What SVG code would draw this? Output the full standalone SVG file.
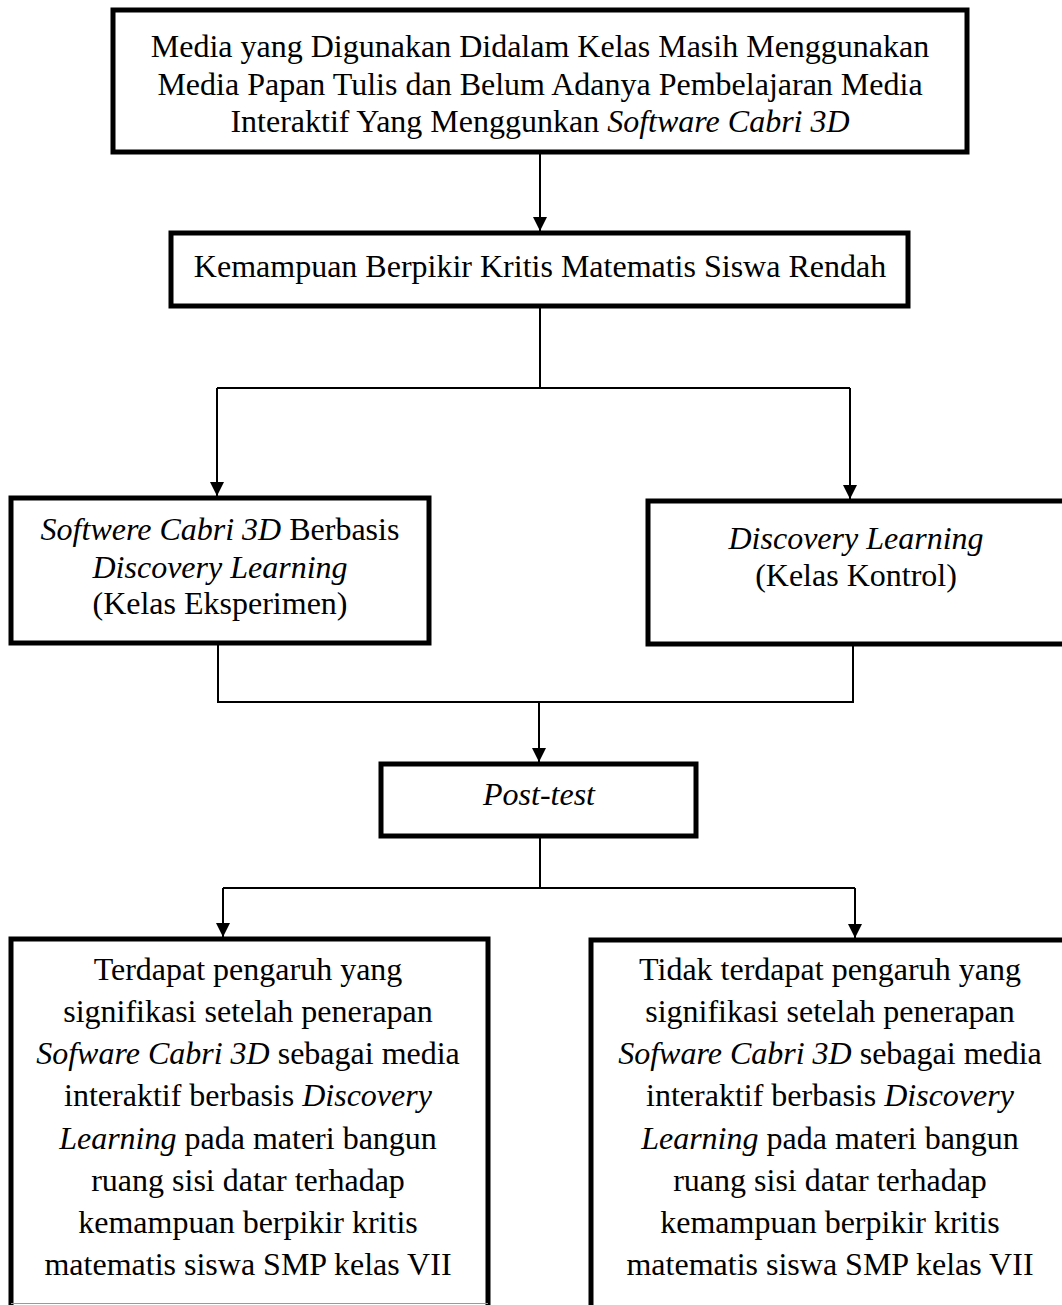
<svg xmlns="http://www.w3.org/2000/svg" width="1062" height="1305" viewBox="0 0 1062 1305">
<style>
.box{fill:#fff;stroke:#000;stroke-width:5}
.t{font-family:"Liberation Serif","Times New Roman",serif;font-size:32px;fill:#000;text-anchor:middle}
.i{font-style:italic}
.c{fill:none;stroke:#000;stroke-width:2}
</style>
<defs>
<marker id="ah" markerWidth="14" markerHeight="16" refX="14" refY="8" orient="auto" markerUnits="userSpaceOnUse">
<path d="M0,1 L14,8 L0,15 Z" fill="#000"/>
</marker>
</defs>
<rect width="1062" height="1305" fill="#fff"/>
<g id="connectors">
<path class="c" d="M540,152 V231" marker-end="url(#ah)"/>
<path class="c" d="M540,306 V388"/>
<path class="c" d="M217,388 H850"/>
<path class="c" d="M217,388 V496" marker-end="url(#ah)"/>
<path class="c" d="M850,388 V499" marker-end="url(#ah)"/>
<path class="c" d="M218,643 V702 H853 V644"/>
<path class="c" d="M539,702 V762" marker-end="url(#ah)"/>
<path class="c" d="M540,836 V888"/>
<path class="c" d="M223,888 H855"/>
<path class="c" d="M223,888 V937" marker-end="url(#ah)"/>
<path class="c" d="M855,888 V938" marker-end="url(#ah)"/>
</g>
<g id="node-media">
<rect class="box" x="113" y="10" width="854" height="142"/>
<text class="t" x="540" y="57">Media yang Digunakan Didalam Kelas Masih Menggunakan</text>
<text class="t" x="540" y="95">Media Papan Tulis dan Belum Adanya Pembelajaran Media</text>
<text class="t" x="540" y="132">Interaktif Yang Menggunkan <tspan class="i">Software Cabri 3D</tspan></text>
</g>
<g id="node-kemampuan">
<rect class="box" x="171" y="233" width="737" height="73"/>
<text class="t" x="540" y="277">Kemampuan Berpikir Kritis Matematis Siswa Rendah</text>
</g>
<g id="node-eksperimen">
<rect class="box" x="11" y="498" width="418" height="145"/>
<text class="t" x="220" y="540"><tspan class="i">Softwere Cabri 3D</tspan> Berbasis</text>
<text class="t i" x="220" y="578">Discovery Learning</text>
<text class="t" x="220" y="614">(Kelas Eksperimen)</text>
</g>
<g id="node-kontrol">
<rect class="box" x="648" y="501" width="424" height="143"/>
<text class="t i" x="856" y="549">Discovery Learning</text>
<text class="t" x="856" y="586">(Kelas Kontrol)</text>
</g>
<g id="node-posttest">
<rect class="box" x="381" y="764" width="315" height="72"/>
<text class="t i" x="539" y="805">Post-test</text>
</g>
<g id="node-hasil-ada">
<rect class="box" x="11" y="939" width="477" height="375"/>
<line x1="11" y1="1303.5" x2="488" y2="1303.5" stroke="#999" stroke-width="1"/>
<text class="t" x="248" y="980">Terdapat pengaruh yang</text>
<text class="t" x="248" y="1022">signifikasi setelah penerapan</text>
<text class="t" x="248" y="1064"><tspan class="i">Sofware Cabri 3D</tspan> sebagai media</text>
<text class="t" x="248" y="1106">interaktif berbasis <tspan class="i">Discovery</tspan></text>
<text class="t" x="248" y="1149"><tspan class="i">Learning</tspan> pada materi bangun</text>
<text class="t" x="248" y="1191">ruang sisi datar terhadap</text>
<text class="t" x="248" y="1233">kemampuan berpikir kritis</text>
<text class="t" x="248" y="1275">matematis siswa SMP kelas VII</text>
</g>
<g id="node-hasil-tidak">
<rect class="box" x="591" y="940" width="480" height="375"/>
<text class="t" x="830" y="980">Tidak terdapat pengaruh yang</text>
<text class="t" x="830" y="1022">signifikasi setelah penerapan</text>
<text class="t" x="830" y="1064"><tspan class="i">Sofware Cabri 3D</tspan> sebagai media</text>
<text class="t" x="830" y="1106">interaktif berbasis <tspan class="i">Discovery</tspan></text>
<text class="t" x="830" y="1149"><tspan class="i">Learning</tspan> pada materi bangun</text>
<text class="t" x="830" y="1191">ruang sisi datar terhadap</text>
<text class="t" x="830" y="1233">kemampuan berpikir kritis</text>
<text class="t" x="830" y="1275">matematis siswa SMP kelas VII</text>
</g>
</svg>
